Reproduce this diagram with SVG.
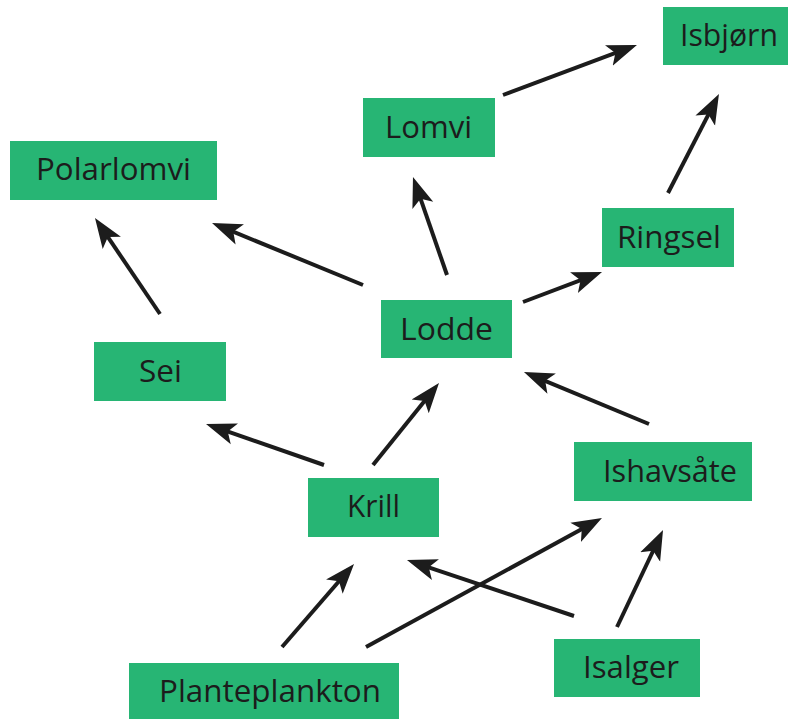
<svg xmlns="http://www.w3.org/2000/svg" width="788" height="719" viewBox="0 0 788 719">
<style>
.box{fill:#27b574}
.lbl{font-family:"Open Sans","Noto Sans","Liberation Sans",sans-serif;font-size:31px;fill:#1c1c1c;text-anchor:middle}
.arr{stroke:#1c1c1c;stroke-width:4;fill:none;marker-end:url(#ah)}
</style>
<defs>
<marker id="ah" markerUnits="userSpaceOnUse" viewBox="-30 -12 30 24" markerWidth="30" markerHeight="24" refX="-15" refY="0" orient="auto">
<path d="M0,0 L-30,-11 L-23,0 L-30,11 Z" fill="#1c1c1c"/>
</marker>
</defs>
<rect width="788" height="719" fill="#ffffff"/>
<g id="connectors">
<line class="arr" x1="503" y1="95" x2="622.9" y2="50.2"/>
<line class="arr" x1="668" y1="193" x2="712.1" y2="107.3"/>
<line class="arr" x1="447" y1="275" x2="417.9" y2="191.2"/>
<line class="arr" x1="523" y1="302" x2="588" y2="277.3"/>
<line class="arr" x1="363" y1="285" x2="225.9" y2="228.7"/>
<line class="arr" x1="160" y1="314" x2="103.4" y2="230.4"/>
<line class="arr" x1="324" y1="465" x2="220.2" y2="428.9"/>
<line class="arr" x1="373" y1="465" x2="429.6" y2="394.7"/>
<line class="arr" x1="649" y1="424" x2="537.8" y2="377.8"/>
<line class="arr" x1="282" y1="647" x2="344.2" y2="575.3"/>
<line class="arr" x1="366" y1="647" x2="588.8" y2="525.2"/>
<line class="arr" x1="574" y1="616" x2="421.2" y2="564.8"/>
<line class="arr" x1="617" y1="627" x2="656.6" y2="543.5"/>
</g>
<g id="isbjorn"><rect class="box" x="663" y="7" width="125" height="58"/><text class="lbl" x="729" y="46" textLength="98" lengthAdjust="spacingAndGlyphs">Isbjørn</text></g>
<g id="lomvi"><rect class="box" x="363" y="98" width="132" height="59"/><text class="lbl" x="428.5" y="138" textLength="87" lengthAdjust="spacingAndGlyphs">Lomvi</text></g>
<g id="polarlomvi"><rect class="box" x="10" y="141" width="207" height="59"/><text class="lbl" x="113.5" y="180" textLength="155" lengthAdjust="spacingAndGlyphs">Polarlomvi</text></g>
<g id="ringsel"><rect class="box" x="602" y="208" width="132" height="59"/><text class="lbl" x="669" y="248" textLength="104" lengthAdjust="spacingAndGlyphs">Ringsel</text></g>
<g id="lodde"><rect class="box" x="381" y="300" width="131" height="58"/><text class="lbl" x="446.5" y="340" textLength="93" lengthAdjust="spacingAndGlyphs">Lodde</text></g>
<g id="sei"><rect class="box" x="94" y="342" width="132" height="59"/><text class="lbl" x="160.5" y="382" textLength="43" lengthAdjust="spacingAndGlyphs">Sei</text></g>
<g id="ishavsate"><rect class="box" x="574" y="442" width="178" height="59"/><text class="lbl" x="670" y="482" textLength="134" lengthAdjust="spacingAndGlyphs">Ishavsåte</text></g>
<g id="krill"><rect class="box" x="308" y="478" width="131" height="59"/><text class="lbl" x="373.5" y="517" textLength="53" lengthAdjust="spacingAndGlyphs">Krill</text></g>
<g id="isalger"><rect class="box" x="554" y="639" width="146" height="58"/><text class="lbl" x="631" y="678" textLength="96" lengthAdjust="spacingAndGlyphs">Isalger</text></g>
<g id="planteplankton"><rect class="box" x="129" y="663" width="270" height="56"/><text class="lbl" x="270" y="702" textLength="222" lengthAdjust="spacingAndGlyphs">Planteplankton</text></g>
</svg>
